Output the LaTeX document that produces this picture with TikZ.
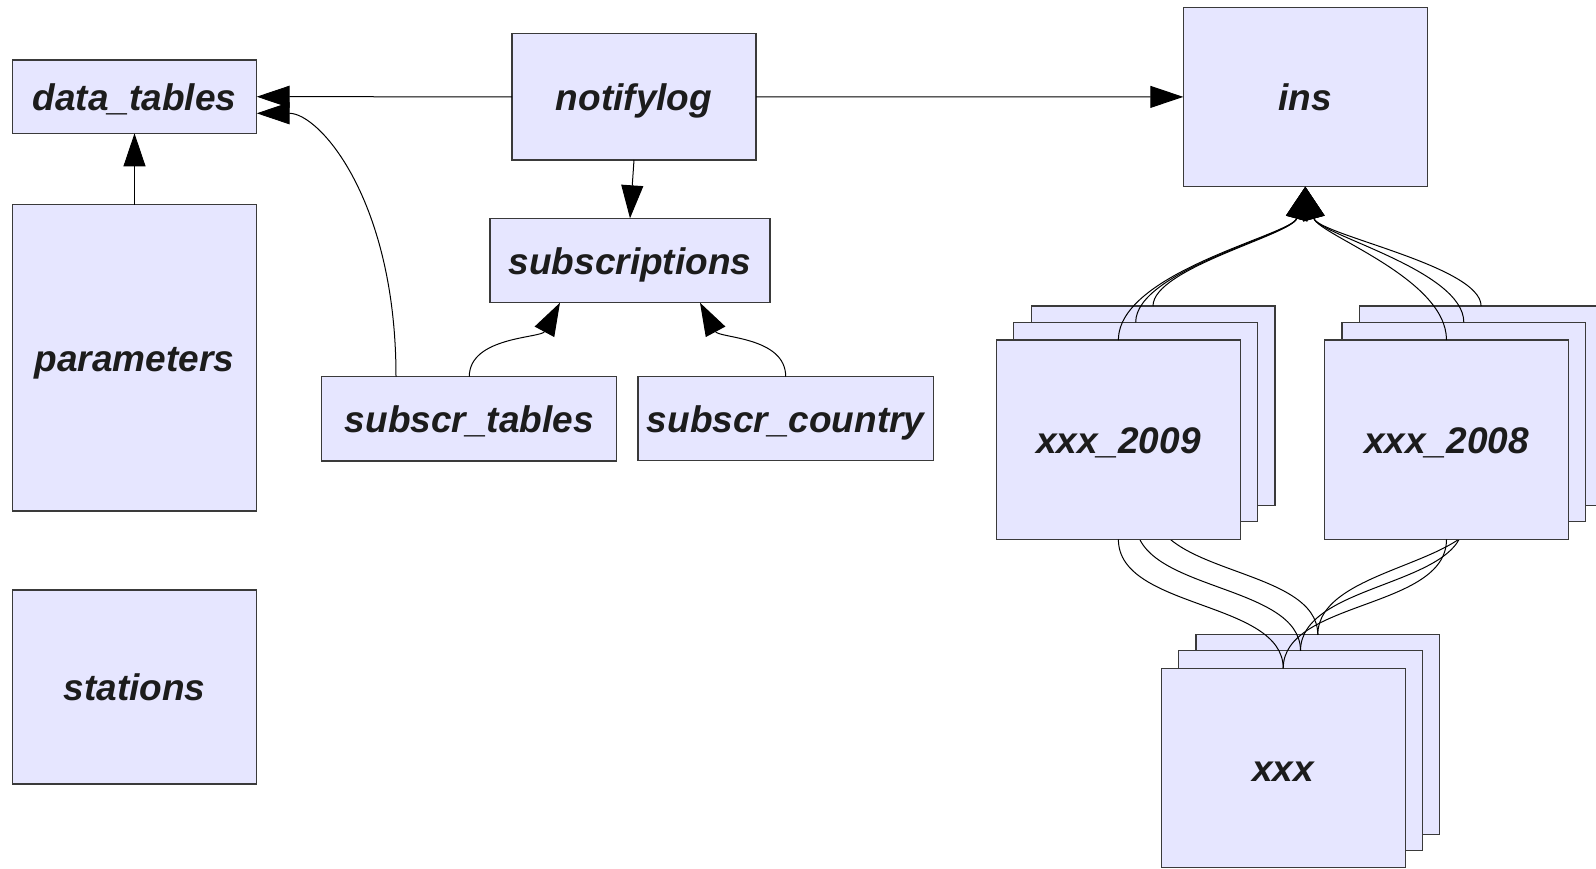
\documentclass[tikz,border=0pt]{standalone}
\usepackage{fontspec}
\setmainfont{Liberation Sans}
\usetikzlibrary{arrows.meta,calc}
\definecolor{boxfill}{HTML}{E6E6FF}
\definecolor{boxline}{HTML}{3A3A3A}
\definecolor{inkfg}{HTML}{1C1C1C}
\tikzset{
  tbl/.style={draw=boxline, fill=boxfill, line width=1.2pt, inner sep=0pt,
    outer sep=0pt, text=inkfg, text height=33pt, text depth=6pt,
    font=\fontsize{37}{44}\selectfont\bfseries\itshape},
  stackbox/.style={tbl, minimum width=243.8pt, minimum height=199.4pt},
  link/.style={draw=black, line width=1pt, -{Triangle[length=33pt,width=22pt]}},
  plain/.style={draw=black, line width=1pt},
}
\begin{document}
\begin{tikzpicture}[x=1pt,y=-1pt]
\useasboundingbox (0,0) rectangle (1596,868);

% left column
\node[tbl, minimum width=244.4pt, minimum height=73.3pt] (dt) at (134.5,96.7) {data\_tables};
\node[tbl, minimum width=244.4pt, minimum height=306.4pt] (par) at (134.5,357.8) {parameters};
\node[tbl, minimum width=244.4pt, minimum height=194pt] (stn) at (134.5,687) {stations};

% middle group
\node[tbl, minimum width=244pt, minimum height=126.4pt] (nl) at (634,96.8) {notifylog};
\node[tbl, minimum width=280pt, minimum height=84.4pt] (subs) at (630,260.5) {subscriptions};
\node[tbl, minimum width=295pt, minimum height=84.4pt] (stab) at (469.3,418.8) {subscr\_tables};
\node[tbl, minimum width=295.4pt, minimum height=84pt] (scty) at (785.7,418.6) {subscr\_country};

\coordinate (subsL) at ($(subs.south west)!0.25!(subs.south east)$);
\coordinate (subsR) at ($(subs.south west)!0.75!(subs.south east)$);
\coordinate (stabL) at ([xshift=-73.3pt]stab.north);
\coordinate (dtLow) at ([yshift=-16.6pt]dt.east);

\draw[link] (nl.west) -- (dt.east);
\draw[link] (par.north) -- (dt.south);
\draw[link] (nl.south) -- (subs.north);
\draw[link] (stabL) .. controls +(0,-176) and +(63,0) .. (dtLow);
\draw[link] (stab.north) .. controls +(0,-40) and +(-19,35.5) .. (subsL);
\draw[link] (scty.north) .. controls +(0,-40) and +(19,35.5) .. (subsR);

% target stack
\node[stackbox] (xa) at (1317.8,734.5) {};
\node[stackbox] (xb) at (1300.5,750.5) {};
\node[stackbox] (xc) at (1283.2,768) {xxx};

% ins
\node[tbl, minimum width=244pt, minimum height=179.6pt] (ins) at (1305.3,96.9) {ins};
\draw[link] (nl.east) -- (ins.west);

% xxx_2009 stack, back to front
\node[stackbox] (na) at (1153,405.7) {};
\draw[link] (na.north) .. controls +(0,-38) and +(-13,48) .. (ins.south);
\draw[plain] (na.south) .. controls +(0,70) and +(0,-68) .. (xa.north);
\node[stackbox] (nb) at (1135.7,422) {};
\draw[link] (nb.north) .. controls +(0,-52) and +(-13,48) .. (ins.south);
\draw[plain] (nb.south) .. controls +(0,70) and +(0,-68) .. (xb.north);
\node[stackbox] (nc) at (1118.4,439.7) {xxx\_2009};
\draw[link] (nc.north) .. controls +(0,-68) and +(-13,48) .. (ins.south);
\draw[plain] (nc.south) .. controls +(0,70) and +(0,-68) .. (xc.north);

% xxx_2008 stack, back to front
\node[stackbox] (ea) at (1481.1,405.7) {};
\draw[link] (ea.north) .. controls +(0,-40) and +(13,48) .. (ins.south);
\draw[plain] (ea.south) .. controls +(0,60) and +(0,-68) .. (xa.north);
\node[stackbox] (eb) at (1463.8,422) {};
\draw[link] (eb.north) .. controls +(0,-52) and +(13,48) .. (ins.south);
\draw[plain] (eb.south) .. controls +(0,65) and +(0,-68) .. (xb.north);
\node[stackbox] (ec) at (1446.5,439.7) {xxx\_2008};
\draw[link] (ec.north) .. controls +(0,-62) and +(13,48) .. (ins.south);
\draw[plain] (ec.south) .. controls +(0,70) and +(0,-68) .. (xc.north);
\end{tikzpicture}
\end{document}
